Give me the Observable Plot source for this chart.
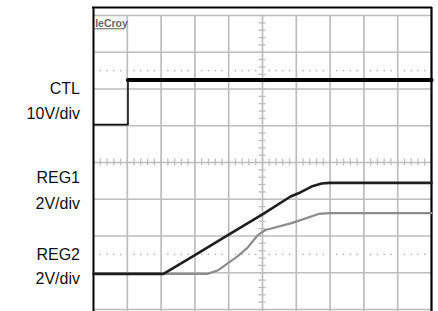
<!DOCTYPE html>
<html>
<head>
<meta charset="utf-8">
<script src="https://cdn.jsdelivr.net/npm/d3@7"></script>
<script src="https://cdn.jsdelivr.net/npm/@observablehq/plot@0.6"></script>
<style>
  html, body { margin: 0; padding: 0; background: #fff; }
  #chart { width: 438px; height: 311px; }
</style>
</head>
<body>
<div id="chart"></div>
<script>
// ---- Data (time in screen divisions, voltages in volts) ----
const ctlTime  = [0, 1.02, 1.02, 10];
const ctlVolts = [0, 0, 12.15, 12.15];

const reg1Time  = [0, 2.07, 3, 4, 5, 5.83, 6.12, 6.45, 6.75, 6.98, 10];
const reg1Volts = [0, 0, 1.02, 2.13, 3.24, 4.21, 4.43, 4.75, 4.92, 4.95, 4.95];

const reg2Time  = [0, 3.37, 3.67, 3.96, 4.26, 4.56, 4.85, 4.97, 5.09, 5.86, 6.66, 6.98, 10];
const reg2Volts = [0, 0, 0.18, 0.56, 0.95, 1.43, 2.09, 2.25, 2.39, 2.76, 3.26, 3.31, 3.31];

// channel settings: ground offset (div) and volts per division
const channelNames  = ["CTL", "REG1", "REG2"];
const channelScales = ["10V/div", "2V/div", "2V/div"];
const channelVPerDiv = [10, 2, 2];
const channelGround  = [5.03, 0.97, 0.97];

const brandLabel = "leCroy";

// ---- Build tables ----
const toDiv = (i) => (v) => channelGround[i] + v / channelVPerDiv[i];
const ctl  = ctlTime.map((t, k) => ({t, y: toDiv(0)(ctlVolts[k]), v: ctlVolts[k]}));
const reg1 = reg1Time.map((t, k) => ({t, y: toDiv(1)(reg1Volts[k])}));
const reg2 = reg2Time.map((t, k) => ({t, y: toDiv(2)(reg2Volts[k])}));

// label layout (div units)
const labelX = -0.4;
const labelRows = [
  {text: channelNames[0],  y: 5.87},
  {text: channelScales[0], y: 5.18},
  {text: channelNames[1],  y: 3.448},
  {text: channelScales[1], y: 2.74},
  {text: channelNames[2],  y: 1.352},
  {text: channelScales[2], y: 0.70}
];

const gridColor = "#bdbdbd";
const majorX = d3.range(1, 10);
const majorY = d3.range(0, 9);
const minorX = d3.range(0, 50.5).map(i => i / 5);
const minorY = d3.range(0, 40.5).map(i => i / 5);
const dotRows = [6.5, 1.5];
const dots = [];
for (const r of dotRows) for (let k = 0; k < 10; k++) for (let j = 1; j <= 4; j++) dots.push({x: k + j / 5, y: r});

const yTop = 8.218, yBot = -0.054;

const chart = Plot.plot({
  width: 438,
  height: 311,
  marginLeft: 93,
  marginRight: 7,
  marginTop: 7,
  marginBottom: 0,
  x: {domain: [0, 10], axis: null},
  y: {domain: [yBot, yTop], axis: null},
  style: {fontFamily: "'Liberation Sans', Arial, sans-serif", background: "#fff", overflow: "visible"},
  marks: [
    Plot.ruleX(majorX, {y1: yBot, y2: 8, stroke: gridColor, strokeWidth: 1.7}),
    Plot.ruleY(majorY, {x1: 0, x2: 10, stroke: gridColor, strokeWidth: 1.7}),
    // minor ticks on center axes
    Plot.ruleY(minorY, {x1: 5 - 0.105, x2: 5 + 0.105, stroke: gridColor, strokeWidth: 1.3}),
    Plot.ruleX(minorX, {y1: 4 - 0.095, y2: 4 + 0.095, stroke: gridColor, strokeWidth: 1.3}),
    Plot.dot(dots, {x: "x", y: "y", r: 0.8, fill: "#b0b0b0", stroke: null}),
    // frame
    Plot.ruleX([0], {y1: yBot, y2: yTop, stroke: "#000", strokeWidth: 2}),
    Plot.ruleX([10], {y1: yBot, y2: yTop, stroke: "#000", strokeWidth: 2.2}),
    Plot.ruleY([yTop], {x1: -0.03, x2: 10.03, stroke: "#000", strokeWidth: 2}),
    // traces
    Plot.line(reg2, {x: "t", y: "y", stroke: "#8c8c8c", strokeWidth: 2.2, curve: "linear"}),
    Plot.line(reg1, {x: "t", y: "y", stroke: "#1e1e1e", strokeWidth: 2.6, curve: "linear"}),
    Plot.line(ctl, {x: "t", y: "y", stroke: "#111", strokeWidth: 1.6}),
    Plot.line(ctl.filter(d => d.v > 6), {x: "t", y: "y", stroke: "#000", strokeWidth: 4.2}),
    // brand
    Plot.text([brandLabel], {x: 0.05, y: 7.7, text: d => d, textAnchor: "start", lineAnchor: "bottom",
      fontSize: 10.5, fontWeight: "bold", fill: "#666", ariaLabel: "brand"}),
    Plot.ruleY([7.64], {x1: 0.05, x2: 0.92, stroke: "#777", strokeWidth: 1.2}),
    // channel labels
    Plot.text(labelRows, {x: labelX, y: "y", text: "text", textAnchor: "end", lineAnchor: "bottom",
      fontSize: 16, fill: "#111", ariaLabel: "labels"})
  ]
});

function stretch(sel, sx) {
  chart.querySelectorAll(sel).forEach(t => {
    const tr = t.getAttribute("transform");
    if (tr) {
      t.setAttribute("transform", tr + ` scale(${sx},1)`);
    } else {
      const x = +t.getAttribute("x") || 0, y = +t.getAttribute("y") || 0;
      t.setAttribute("transform", `translate(${x},${y}) scale(${sx},1) translate(${-x},${-y})`);
    }
  });
}
stretch('g[aria-label="labels"] text', 1.15);
stretch('g[aria-label="brand"] text', 0.95);

document.getElementById("chart").appendChild(chart);
</script>
</body>
</html>
